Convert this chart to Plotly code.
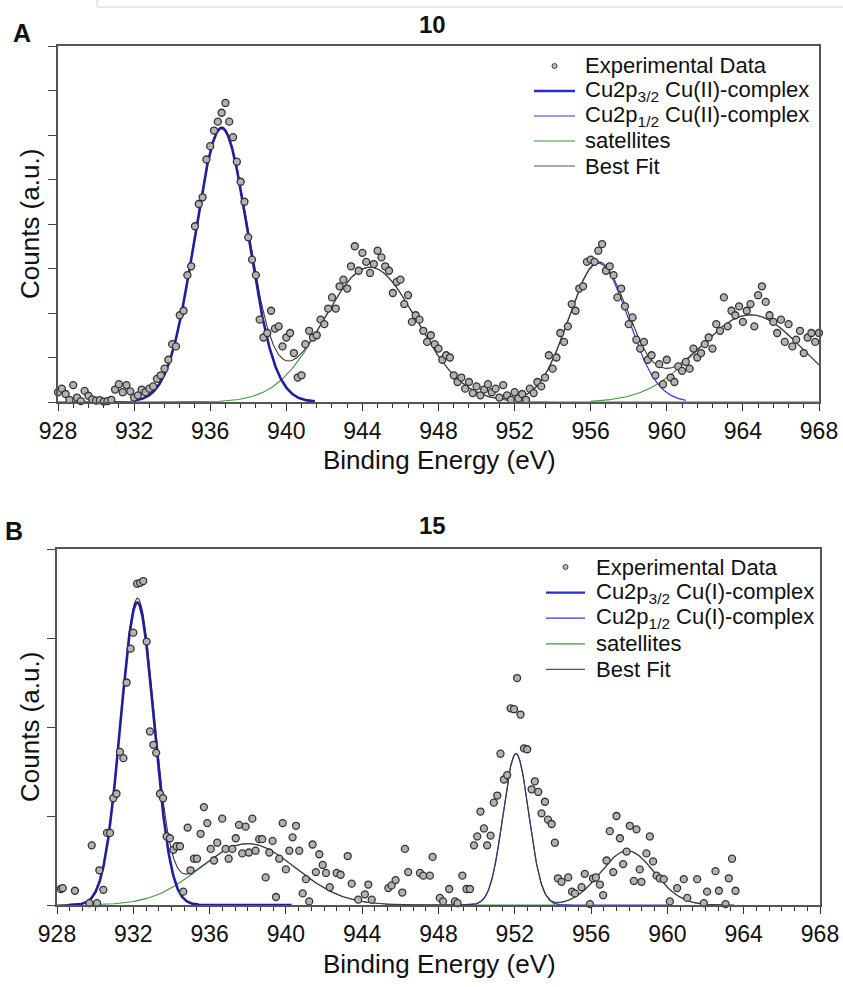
import numpy as np
import plotly.graph_objects as go

W, H = 843, 987
FONT = "Liberation Sans, Arial, Helvetica, sans-serif"

# ---------------- Panel A : sample "10" (Cu(II)) ----------------
a_energy_start = 928.0
a_energy_step = 0.2
a_counts = [
    0.22, 0.30, 0.18, 0.05, 0.38, 0.10, 0.02, 0.25, 0.14, 0.06,   # 928.0
    0.03, 0.04, 0.01, 0.02, 0.05, 0.28, 0.40, 0.22, 0.38, 0.24,   # 930.0
    0.10, 0.15, 0.28, 0.22, 0.30, 0.35, 0.52, 0.60, 0.75, 0.95,   # 932.0
    1.30, 1.25, 1.95, 2.05, 2.85, 3.05, 3.95, 4.45, 4.60, 5.45,   # 934.0
    5.75, 6.10, 6.30, 6.50, 6.72, 6.30, 5.95, 5.40, 4.95, 4.50,   # 936.0
    3.70, 3.20, 2.85, 1.85, 1.45, 1.55, 2.05, 1.65, 1.70, 1.25,   # 938.0
    1.45, 1.55, 1.10, 0.55, 0.60, 1.30, 1.60, 1.45, 1.50, 1.85,   # 940.0
    1.75, 2.10, 2.35, 2.10, 2.60, 2.75, 2.55, 3.05, 3.50, 2.95,   # 942.0
    3.35, 3.15, 2.90, 3.10, 3.40, 3.25, 3.05, 2.95, 2.45, 2.70,   # 944.0
    2.75, 2.20, 2.40, 1.80, 1.95, 1.85, 1.60, 1.35, 1.50, 1.30,   # 946.0
    1.20, 0.95, 1.05, 1.00, 0.60, 0.45, 0.55, 0.30, 0.45, 0.20,   # 948.0
    0.35, 0.15, 0.28, 0.40, 0.22, 0.30, 0.10, 0.38, 0.15, 0.05,   # 950.0
    0.22, 0.08, 0.18, 0.05, 0.30, 0.20, 0.45, 0.35, 0.55, 1.05,   # 952.0
    0.75, 1.00, 1.55, 1.35, 1.70, 2.20, 2.05, 2.55, 2.60, 3.15,   # 954.0
    3.20, 3.15, 3.40, 3.55, 2.95, 3.05, 2.85, 2.35, 2.55, 2.15,   # 956.0
    1.75, 1.90, 1.40, 1.20, 1.35, 0.95, 1.05, 0.60, 0.85, 0.40,   # 958.0
    0.95, 0.55, 0.45, 0.80, 0.70, 0.90, 0.75, 1.20, 1.00, 1.10,   # 960.0
    1.30, 1.45, 1.20, 1.75, 1.60, 2.35, 1.70, 2.05, 1.95, 2.15,   # 962.0
    1.80, 2.05, 2.20, 1.70, 2.40, 2.60, 2.25, 1.95, 1.80, 1.55,   # 964.0
    1.85, 1.35, 1.75, 1.25, 1.40, 1.60, 1.10, 1.45, 1.55, 1.35,   # 966.0
    1.55,                                                         # 968.0
]
# fitted components: Cu2p3/2, Cu2p1/2, satellite 1, satellite 2
a_centers = [936.6, 956.4, 944.4, 964.4]
a_heights = [6.16, 3.12, 3.03, 1.96]
a_sigmas = [1.40, 1.55, 2.45, 2.75]
a_comp_from = [932.0, 952.0, 932.0, 956.0]
a_comp_to = [941.5, 961.0, 968.0, 968.0]
a_fit_range = [928.0, 968.0]
a_legend = ["Experimental Data", "Cu2p<sub>3/2</sub> Cu(II)-complex",
            "Cu2p<sub>1/2</sub> Cu(II)-complex", "satellites", "Best Fit"]

# ---------------- Panel B : sample "15" (Cu(I)) ----------------
b_energy = [
    928.20, 928.30, 928.94, 929.70, 929.82, 930.10, 930.22, 930.43, 930.62, 930.78,
    930.95, 931.12, 931.30, 931.48, 931.65, 931.86, 932.00, 932.20, 932.36, 932.52,
    932.70, 932.87, 933.05, 933.20, 933.40, 933.56, 933.75, 933.92, 934.10, 934.27,
    934.45, 934.62, 934.85, 935.00, 935.18, 935.34, 935.53, 935.70, 935.88, 936.06,
    936.23, 936.40, 936.66, 936.84, 937.00, 937.19, 937.37, 937.54, 937.71, 937.89,
    938.06, 938.24, 938.41, 938.60, 938.76, 938.94, 939.13, 939.30, 939.48, 939.65,
    939.83, 940.00, 940.18, 940.35, 940.53, 940.70, 940.88, 941.05, 941.22, 941.40,
    941.57, 941.75, 941.93, 942.10, 942.30, 942.66, 942.87, 943.24, 943.45, 943.79,
    944.14, 944.32, 944.50, 945.37, 945.54, 945.75, 946.10, 946.24, 946.41, 947.03,
    947.20, 947.55, 947.69, 948.07, 948.24, 948.56, 948.86, 949.00, 949.25, 949.47,
    949.65, 949.86, 950.03, 950.20, 950.38, 950.55, 950.73, 950.90, 951.08, 951.25,
    951.43, 951.60, 951.78, 951.96, 952.12, 952.30, 952.48, 952.65, 952.88, 953.05,
    953.23, 953.40, 953.58, 953.74, 953.93, 954.10, 954.26, 954.45, 954.80, 955.00,
    955.15, 955.50, 955.67, 955.94, 956.10, 956.25, 956.46, 956.63, 956.81, 956.98,
    957.16, 957.33, 957.51, 957.68, 957.86, 958.03, 958.24, 958.38, 958.55, 958.64,
    958.90, 959.08, 959.25, 959.43, 959.60, 959.81, 960.13, 960.51, 960.86, 961.04,
    961.56, 961.91, 962.08, 962.52, 962.70, 963.05, 963.22, 963.39, 963.57,
]
b_counts = [
    0.18, 0.19, 0.16, 0.02, 0.67, 0.02, 0.39, 0.17, 0.81, 0.81,
    1.20, 1.25, 1.72, 1.65, 2.50, 2.88, 3.06, 3.61, 3.62, 3.64,
    2.96, 1.95, 1.80, 1.71, 1.25, 1.20, 0.77, 0.75, 0.62, 0.66,
    0.66, 0.15, 0.87, 0.39, 0.52, 0.52, 0.80, 1.10, 0.92, 0.63,
    0.50, 0.70, 0.97, 0.63, 0.52, 0.63, 0.75, 0.90, 0.58, 0.88,
    0.59, 0.97, 0.61, 0.74, 0.74, 0.31, 0.59, 0.72, 0.09, 0.52,
    0.92, 0.40, 0.61, 0.76, 0.89, 0.61, 0.13, 0.29, 0.04, 0.68,
    0.37, 0.57, 0.45, 0.36, 0.20, 0.36, 0.34, 0.55, 0.24, 0.06,
    0.12, 0.23, 0.06, 0.19, 0.22, 0.28, 0.14, 0.63, 0.37, 0.36,
    0.33, 0.33, 0.54, 0.08, 0.04, 0.18, 0.04, 0.02, 0.33, 0.18,
    0.18, 0.67, 0.77, 1.05, 0.86, 0.67, 0.78, 1.15, 1.23, 1.70,
    1.41, 1.46, 2.21, 2.20, 2.55, 2.14, 1.76, 1.75, 1.30, 1.39,
    1.27, 1.03, 1.16, 0.96, 0.91, 0.70, 0.30, 0.26, 0.31, 0.15,
    0.13, 0.20, 0.35, 0.01, 0.30, 0.31, 0.23, 0.11, 0.50, 0.83,
    0.37, 1.00, 0.75, 0.46, 0.60, 0.89, 0.27, 0.85, 0.40, 0.26,
    0.58, 0.77, 0.49, 0.33, 0.30, 0.29, 0.04, 0.19, 0.29, 0.08,
    0.29, 0.02, 0.15, 0.38, 0.16, 0.01, 0.30, 0.52, 0.16,
]
b_centers = [932.21, 952.06, 938.0, 957.9]
b_heights = [3.40, 1.70, 0.69, 0.61]
b_sigmas = [0.875, 0.67, 2.5, 1.4]
b_comp_from = [928.6, 949.0, 929.5, 954.0]
b_comp_to = [940.3, 960.0, 955.0, 962.0]
b_fit_range = [928.0, 963.5]
b_legend = ["Experimental Data", "Cu2p<sub>3/2</sub> Cu(I)-complex",
            "Cu2p<sub>1/2</sub> Cu(I)-complex", "satellites", "Best Fit"]

x_ticks = list(range(928, 969, 4))

# ---------------- styles ----------------
C_P32 = "#1f1f9e"
C_P12 = "#3434e4"
C_SAT = "#3a9a3a"
C_FIT = "#3a3a3a"
LEG_P32 = "#2a2ad0"


def gauss(x, c, h, s):
    return h * np.exp(-(x - c) ** 2 / (2.0 * s * s))


fig = go.Figure()


def comp_trace(k, centers, heights, sigmas, c_from, c_to, col, wd, xr, yr):
    xx = np.linspace(c_from[k], c_to[k], 500)
    return go.Scatter(x=xx, y=gauss(xx, centers[k], heights[k], sigmas[k]),
                      mode="lines", line=dict(color=col, width=wd),
                      xaxis=xr, yaxis=yr, showlegend=False, hoverinfo="skip")


def add_panel(xr, yr, energy, counts, centers, heights, sigmas, c_from, c_to, fit_range):
    args = (centers, heights, sigmas, c_from, c_to)
    # satellites and Cu2p1/2 (under the fit)
    fig.add_trace(comp_trace(2, *args, C_SAT, 1.1, xr, yr))
    fig.add_trace(comp_trace(3, *args, C_SAT, 1.1, xr, yr))
    fig.add_trace(comp_trace(1, *args, C_P12, 1.2, xr, yr))
    # best fit = sum of components
    xf = np.linspace(fit_range[0], fit_range[1], 900)
    yf = sum(gauss(xf, c, h, s) for c, h, s in zip(centers, heights, sigmas))
    fig.add_trace(go.Scatter(x=xf, y=yf, mode="lines", line=dict(color=C_FIT, width=1.1),
                             xaxis=xr, yaxis=yr, showlegend=False, hoverinfo="skip"))
    # Cu2p3/2 on top
    fig.add_trace(comp_trace(0, *args, C_P32, 2.6, xr, yr))
    # experimental points
    fig.add_trace(go.Scatter(x=energy, y=counts, mode="markers",
                             marker=dict(symbol="circle", size=7, color="#b3b3b3",
                                         line=dict(color="#333333", width=1.3)),
                             cliponaxis=False, xaxis=xr, yaxis=yr, showlegend=False))


a_energy = [round(a_energy_start + a_energy_step * i, 2) for i in range(len(a_counts))]
add_panel("x", "y", a_energy, a_counts, a_centers, a_heights, a_sigmas,
          a_comp_from, a_comp_to, a_fit_range)
add_panel("x2", "y2", b_energy, b_counts, b_centers, b_heights, b_sigmas,
          b_comp_from, b_comp_to, b_fit_range)


def px(v):
    return v / W


def py(v):
    return 1 - v / H


def xaxis_cfg(dom, minor_dt, anchor):
    return dict(domain=dom, range=[928, 968], tickvals=x_ticks, ticks="outside",
                ticklen=7, tickwidth=1.3, tickcolor="#333",
                minor=dict(dtick=minor_dt, tick0=928, ticks="outside", ticklen=4,
                           tickwidth=1, tickcolor="#333"),
                showline=True, linecolor="#555", linewidth=1.5, mirror=True,
                showgrid=False, zeroline=False, anchor=anchor, automargin=False,
                tickfont=dict(family=FONT, size=23, color="#111"),
                ticklabelstandoff=1)


def yaxis_cfg(dom, top, anchor):
    return dict(domain=dom, range=[0, top], dtick=1, ticks="outside", ticklen=8,
                tickwidth=1.3, tickcolor="#444", showticklabels=False,
                showline=True, linecolor="#555", linewidth=1.5, mirror=True,
                showgrid=False, zeroline=False, anchor=anchor, automargin=False)


fig.update_layout(
    width=W, height=H, autosize=False,
    margin=dict(l=0, r=0, t=0, b=0, pad=0),
    paper_bgcolor="white", plot_bgcolor="white",
    showlegend=False,
    xaxis=xaxis_cfg([px(58), px(819)], 0.8, "y"),
    yaxis=yaxis_cfg([py(402), py(46)], 8, "x"),
    xaxis2=xaxis_cfg([px(57), px(820)], 4 / 6, "y2"),
    yaxis2=yaxis_cfg([py(905), py(549)], 4, "x2"),
)

ann = []
shapes = []


def text(x, y, s, size, bold=False, angle=0, xanchor="center"):
    ann.append(dict(x=px(x), y=py(y), xref="paper", yref="paper", text=(f"<b>{s}</b>" if bold else s),
                    showarrow=False, xanchor=xanchor, yanchor="middle", textangle=angle,
                    font=dict(family=FONT, size=size, color="#111")))


# panel letters and titles
text(22, 33, "A", 25, bold=True)
text(432, 24, "10", 24, bold=True)
text(14, 531, "B", 25, bold=True)
text(432, 525, "15", 24, bold=True)
# axis titles
text(439, 460, "Binding Energy (eV)", 26)
text(439, 964, "Binding Energy (eV)", 26)
text(30, 224, "Counts (a.u.)", 26, angle=-90)
text(30, 727, "Counts (a.u.)", 26, angle=-90)


def legend(labels, x_line0, x_line1, x_text, y0, dy):
    styles = [None, (LEG_P32, 2.4), (C_P12, 1.2), (C_SAT, 1.2), ("#555", 1.2)]
    for i, lab in enumerate(labels):
        yy = y0 + i * dy
        if i == 0:
            xc = (x_line0 + x_line1) / 2
            shapes.append(dict(type="circle", xref="paper", yref="paper",
                               x0=px(xc - 2.5), x1=px(xc + 2.5), y0=py(yy + 2.5), y1=py(yy - 2.5),
                               line=dict(color="#444", width=1), fillcolor="#bbb"))
        else:
            col, wd = styles[i]
            shapes.append(dict(type="line", xref="paper", yref="paper",
                               x0=px(x_line0), x1=px(x_line1), y0=py(yy), y1=py(yy),
                               line=dict(color=col, width=wd)))
        text(x_text, yy, lab, 22, xanchor="left")


legend(a_legend, 534, 575, 583, 66, 25.0)
legend(b_legend, 546, 585, 594, 567, 25.6)

# faint frame line at top of the image
shapes.append(dict(type="line", xref="paper", yref="paper", x0=px(97), x1=1,
                   y0=py(7), y1=py(7), line=dict(color="#e2e2e2", width=1.5)))
shapes.append(dict(type="line", xref="paper", yref="paper", x0=px(97), x1=px(97),
                   y0=1, y1=py(7), line=dict(color="#e2e2e2", width=1.5)))

fig.update_layout(annotations=ann, shapes=shapes)
fig.write_html("out.html", config={"displayModeBar": False},
               post_script="document.body.style.margin='0px';document.body.style.overflow='hidden';")
